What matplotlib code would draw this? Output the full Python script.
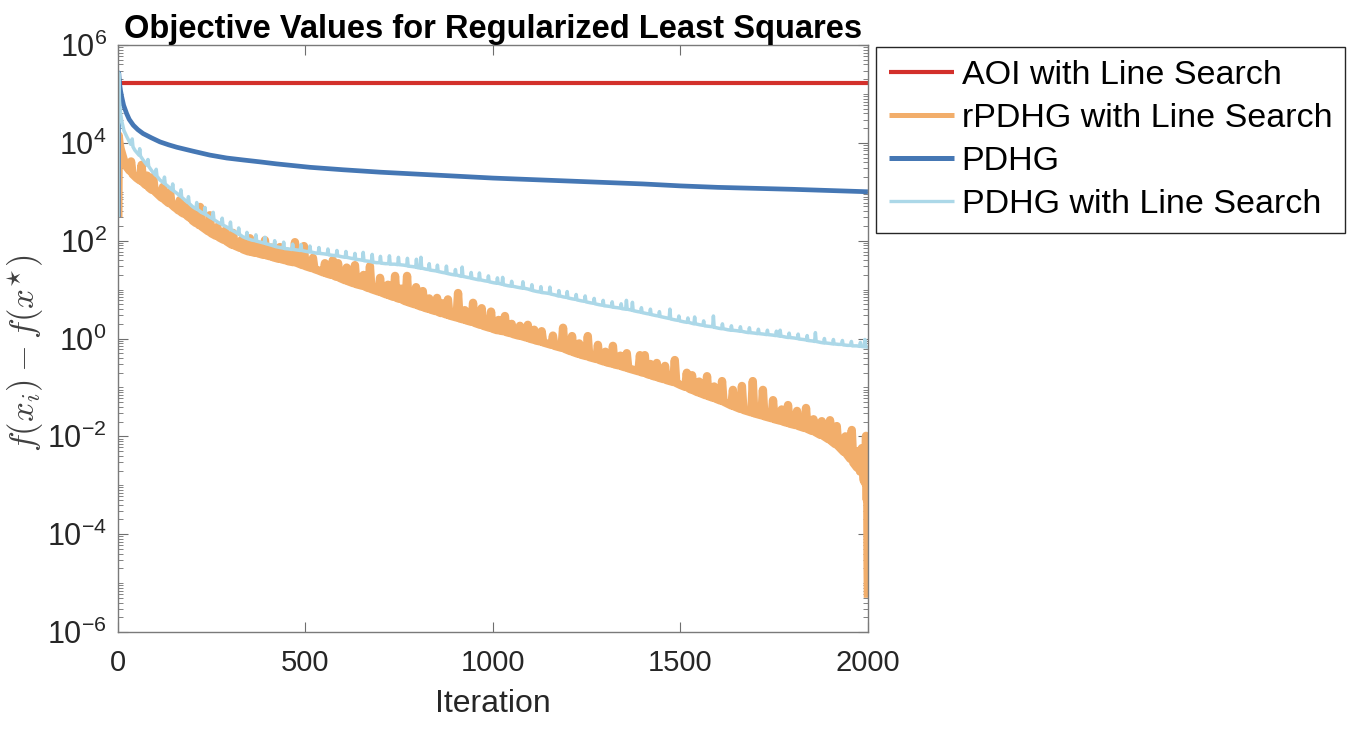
"""Objective gap curves for regularized least squares (AOI / rPDHG / PDHG)."""

from __future__ import annotations

import matplotlib

matplotlib.use("Agg")
import matplotlib.pyplot as plt
import numpy as np
from matplotlib.ticker import FixedLocator, FuncFormatter, LogLocator, NullFormatter

# ---------------------------------------------------------------------------
# data (iteration, log10 of f(x_i) - f(x*))
# ---------------------------------------------------------------------------
AOI_ITERS = [1, 2000]
AOI_LOG10 = [5.22, 5.22]

RPDHG_POINTS = [
    (1, 2.48), (2, 4.15), (4, 4.00), (7, 3.88), (10, 3.80), (16, 3.64), (24, 3.50),
    (31, 3.43), (35, 3.62), (39, 3.36), (50, 3.28), (59, 3.23), (63, 3.55), (67, 3.19),
    (74, 3.14), (78, 3.33), (82, 3.09), (90, 3.04), (94, 3.30), (98, 3.01), (105, 2.96),
    (112, 2.91), (116, 2.88), (120, 3.10), (124, 2.84), (135, 2.77), (139, 3.00), (143, 2.74),
    (150, 2.69), (157, 2.65), (161, 2.62), (165, 2.83), (169, 2.58), (176, 2.55), (180, 2.72),
    (184, 2.51), (191, 2.47), (195, 2.62), (199, 2.41), (208, 2.36), (212, 2.55), (216, 2.32),
    (219, 2.69), (223, 2.29), (232, 2.24), (241, 2.19), (245, 2.52), (249, 2.15), (261, 2.10),
    (265, 2.28), (269, 2.07), (281, 2.02), (285, 2.20), (289, 1.99), (303, 1.92), (307, 2.16),
    (311, 1.90), (326, 1.85), (330, 2.02), (334, 1.82), (348, 1.78), (352, 2.05), (356, 1.77),
    (366, 1.75), (370, 1.93), (374, 1.74), (388, 1.71), (392, 2.01), (396, 1.70), (406, 1.68),
    (410, 1.86), (414, 1.66), (428, 1.63), (432, 1.87), (436, 1.62), (446, 1.60), (450, 1.78),
    (454, 1.58), (468, 1.56), (472, 1.97), (476, 1.55), (492, 1.50), (496, 1.89), (500, 1.48),
    (516, 1.44), (520, 1.65), (524, 1.42), (535, 1.39), (548, 1.35), (552, 1.54), (556, 1.33),
    (569, 1.30), (573, 1.60), (577, 1.28), (583, 1.26), (587, 1.54), (591, 1.24), (606, 1.19),
    (610, 1.45), (614, 1.17), (628, 1.13), (632, 1.50), (636, 1.11), (651, 1.08), (655, 1.30),
    (659, 1.06), (668, 1.03), (672, 1.48), (676, 1.01), (695, 0.96), (699, 1.24), (703, 0.94),
    (716, 0.90), (720, 1.10), (724, 0.88), (735, 0.85), (739, 1.28), (743, 0.83), (751, 0.81),
    (755, 1.02), (759, 0.79), (767, 0.76), (771, 1.28), (775, 0.74), (791, 0.70), (795, 1.05),
    (799, 0.68), (809, 0.65), (813, 0.97), (817, 0.63), (826, 0.61), (830, 0.82), (834, 0.59),
    (847, 0.56), (851, 0.83), (855, 0.54), (861, 0.52), (865, 0.72), (869, 0.51), (876, 0.49),
    (880, 0.80), (884, 0.47), (903, 0.43), (907, 0.93), (911, 0.41), (921, 0.39), (925, 0.58),
    (929, 0.37), (943, 0.34), (947, 0.73), (951, 0.32), (966, 0.28), (970, 0.62), (974, 0.26),
    (991, 0.22), (995, 0.55), (999, 0.20), (1011, 0.17), (1015, 0.38), (1019, 0.16),
    (1028, 0.15), (1032, 0.46), (1036, 0.13), (1046, 0.11), (1050, 0.30), (1054, 0.09),
    (1068, 0.06), (1072, 0.26), (1076, 0.05), (1089, 0.02), (1093, 0.28), (1097, 0.00),
    (1106, -0.02), (1110, 0.18), (1114, -0.04), (1126, -0.06), (1130, 0.15), (1134, -0.08),
    (1156, -0.13), (1160, 0.06), (1164, -0.15), (1183, -0.19), (1187, 0.22), (1191, -0.21),
    (1207, -0.26), (1211, 0.05), (1215, -0.28), (1226, -0.31), (1230, -0.10), (1234, -0.33),
    (1249, -0.36), (1253, 0.05), (1257, -0.38), (1276, -0.42), (1280, -0.13), (1284, -0.44),
    (1296, -0.47), (1300, -0.27), (1304, -0.49), (1316, -0.51), (1320, -0.15), (1324, -0.53),
    (1336, -0.55), (1340, -0.35), (1344, -0.57), (1353, -0.59), (1357, -0.30), (1361, -0.61),
    (1388, -0.67), (1392, -0.34), (1396, -0.69), (1401, -0.70), (1405, -0.34), (1409, -0.72),
    (1416, -0.74), (1420, -0.52), (1424, -0.76), (1433, -0.78), (1437, -0.50), (1441, -0.80),
    (1455, -0.83), (1459, -0.56), (1463, -0.85), (1481, -0.89), (1485, -0.44), (1489, -0.91),
    (1500, -0.95), (1513, -0.99), (1517, -0.70), (1521, -1.01), (1527, -1.04), (1531, -0.75),
    (1535, -1.06), (1546, -1.10), (1550, -0.88), (1554, -1.12), (1567, -1.16), (1571, -0.77),
    (1575, -1.18), (1586, -1.21), (1590, -0.98), (1594, -1.23), (1607, -1.27), (1611, -0.87),
    (1615, -1.29), (1636, -1.37), (1640, -1.05), (1644, -1.39), (1660, -1.44), (1664, -0.97),
    (1668, -1.46), (1689, -1.51), (1693, -0.87), (1697, -1.53), (1716, -1.57), (1720, -1.05),
    (1724, -1.59), (1743, -1.63), (1747, -1.26), (1751, -1.65), (1766, -1.68), (1770, -1.45),
    (1774, -1.70), (1783, -1.72), (1787, -1.36), (1791, -1.74), (1807, -1.77), (1811, -1.48),
    (1815, -1.79), (1831, -1.83), (1835, -1.42), (1839, -1.85), (1851, -1.89), (1855, -1.65),
    (1859, -1.91), (1873, -1.97), (1877, -1.69), (1881, -1.99), (1895, -2.06), (1899, -1.67),
    (1903, -2.10), (1913, -2.16), (1917, -1.79), (1921, -2.20), (1936, -2.32), (1940, -2.00),
    (1944, -2.37), (1953, -2.46), (1957, -1.87), (1961, -2.54), (1971, -2.64), (1975, -2.30),
    (1979, -2.72), (1984, -2.24), (1988, -2.88), (1992, -2.95), (1995, -1.99), (1997, -3.30),
    (1998, -2.30), (1999, -4.50), (2000, -5.30),
]

PDHG_POINTS = [
    (1, 2.48), (2, 5.43), (3, 5.33), (5, 5.17), (7, 5.06), (10, 4.94), (15, 4.77),
    (23, 4.60), (30, 4.48), (41, 4.36), (53, 4.27), (67, 4.19), (90, 4.10), (112, 4.02),
    (135, 3.96), (157, 3.91), (200, 3.83), (245, 3.75), (290, 3.69), (334, 3.65),
    (380, 3.61), (423, 3.57), (512, 3.50), (600, 3.45), (700, 3.40), (800, 3.36),
    (900, 3.32), (1000, 3.28), (1200, 3.22), (1400, 3.16), (1500, 3.12), (1600, 3.09),
    (1800, 3.05), (2000, 3.00),
]

PDHG_LS_POINTS = [
    (1, 2.48), (2, 5.43), (4, 4.85), (7, 4.60), (10, 4.45), (16, 4.25), (24, 4.12),
    (34, 3.97), (38, 4.08), (40, 3.92), (45, 3.85), (56, 3.75), (58, 3.88), (60, 3.73),
    (67, 3.65), (78, 3.54), (80, 3.66), (82, 3.52), (90, 3.43), (100, 3.34), (102, 3.46),
    (104, 3.32), (112, 3.24), (122, 3.18), (124, 3.30), (126, 3.16), (135, 3.10), (144, 3.04),
    (146, 3.16), (148, 3.02), (157, 2.97), (166, 2.91), (168, 3.04), (170, 2.89), (180, 2.82),
    (186, 2.78), (188, 2.90), (190, 2.76), (200, 2.69), (208, 2.65), (210, 2.78), (212, 2.64),
    (222, 2.58), (230, 2.55), (232, 2.68), (234, 2.54), (245, 2.48), (252, 2.45), (254, 2.58),
    (256, 2.43), (268, 2.37), (276, 2.34), (278, 2.46), (280, 2.32), (290, 2.28), (298, 2.24),
    (300, 2.38), (302, 2.22), (312, 2.18), (320, 2.14), (322, 2.26), (324, 2.13), (333, 2.08),
    (342, 2.05), (344, 2.17), (346, 2.04), (358, 2.01), (366, 2.00), (368, 2.12), (370, 1.99),
    (380, 1.97), (390, 1.95), (392, 2.07), (394, 1.94), (408, 1.91), (416, 1.89), (418, 2.00),
    (420, 1.88), (432, 1.86), (440, 1.85), (442, 1.97), (444, 1.84), (456, 1.83), (464, 1.82),
    (466, 1.93), (468, 1.82), (478, 1.81), (486, 1.80), (488, 1.92), (490, 1.80), (502, 1.78),
    (510, 1.77), (512, 1.89), (514, 1.77), (526, 1.75), (534, 1.74), (536, 1.86), (538, 1.74),
    (550, 1.73), (558, 1.72), (560, 1.83), (562, 1.71), (574, 1.70), (582, 1.69), (584, 1.80),
    (586, 1.69), (598, 1.67), (606, 1.66), (608, 1.78), (610, 1.66), (622, 1.64), (630, 1.63),
    (632, 1.74), (634, 1.62), (645, 1.61), (652, 1.60), (654, 1.76), (656, 1.59), (668, 1.58),
    (676, 1.57), (678, 1.72), (680, 1.56), (690, 1.55), (698, 1.55), (700, 1.68), (702, 1.54),
    (714, 1.53), (722, 1.53), (724, 1.69), (726, 1.52), (738, 1.52), (746, 1.51), (748, 1.66),
    (750, 1.51), (762, 1.50), (770, 1.49), (772, 1.64), (774, 1.48), (786, 1.47), (794, 1.46),
    (796, 1.62), (798, 1.45), (806, 1.44), (808, 1.66), (810, 1.44), (820, 1.42), (828, 1.41),
    (830, 1.53), (832, 1.40), (842, 1.39), (850, 1.38), (852, 1.50), (854, 1.37), (866, 1.35),
    (874, 1.34), (876, 1.48), (878, 1.33), (890, 1.31), (898, 1.30), (900, 1.41), (902, 1.30),
    (912, 1.28), (916, 1.27), (918, 1.46), (920, 1.27), (932, 1.25), (940, 1.24), (942, 1.35),
    (944, 1.23), (956, 1.21), (962, 1.20), (964, 1.34), (966, 1.20), (978, 1.18), (986, 1.17),
    (988, 1.28), (990, 1.16), (1002, 1.14), (1010, 1.13), (1012, 1.24), (1014, 1.13),
    (1024, 1.11), (1026, 1.25), (1028, 1.10), (1040, 1.08), (1048, 1.07), (1050, 1.17),
    (1052, 1.07), (1064, 1.05), (1078, 1.03), (1080, 1.16), (1082, 1.03), (1094, 1.01),
    (1102, 0.99), (1104, 1.10), (1106, 0.98), (1118, 0.96), (1126, 0.95), (1128, 1.06),
    (1130, 0.94), (1142, 0.93), (1150, 0.92), (1152, 1.05), (1154, 0.91), (1166, 0.89),
    (1174, 0.87), (1176, 0.98), (1178, 0.87), (1188, 0.85), (1196, 0.84), (1198, 0.96),
    (1200, 0.83), (1212, 0.81), (1220, 0.80), (1222, 0.90), (1224, 0.79), (1236, 0.77),
    (1244, 0.76), (1246, 0.87), (1248, 0.75), (1260, 0.73), (1268, 0.72), (1270, 0.82),
    (1272, 0.71), (1284, 0.69), (1292, 0.68), (1294, 0.78), (1296, 0.67), (1308, 0.66),
    (1316, 0.65), (1318, 0.75), (1320, 0.64), (1332, 0.63), (1340, 0.62), (1342, 0.71),
    (1344, 0.61), (1354, 0.60), (1356, 0.78), (1358, 0.60), (1370, 0.58), (1372, 0.74),
    (1374, 0.57), (1386, 0.55), (1394, 0.54), (1396, 0.63), (1398, 0.53), (1410, 0.51),
    (1418, 0.50), (1420, 0.60), (1422, 0.49), (1434, 0.47), (1442, 0.46), (1444, 0.55),
    (1446, 0.45), (1458, 0.43), (1470, 0.41), (1472, 0.60), (1474, 0.40), (1486, 0.38),
    (1494, 0.37), (1496, 0.46), (1498, 0.36), (1510, 0.34), (1518, 0.33), (1520, 0.42),
    (1522, 0.33), (1536, 0.30), (1538, 0.44), (1540, 0.30), (1552, 0.28), (1560, 0.27),
    (1562, 0.36), (1564, 0.26), (1576, 0.25), (1586, 0.24), (1588, 0.46), (1590, 0.23),
    (1602, 0.21), (1610, 0.20), (1612, 0.30), (1614, 0.20), (1626, 0.18), (1634, 0.17),
    (1636, 0.26), (1638, 0.17), (1650, 0.16), (1658, 0.15), (1660, 0.24), (1662, 0.15),
    (1674, 0.13), (1682, 0.12), (1684, 0.22), (1686, 0.12), (1698, 0.11), (1706, 0.10),
    (1708, 0.19), (1710, 0.10), (1722, 0.09), (1730, 0.08), (1732, 0.17), (1734, 0.08),
    (1746, 0.07), (1754, 0.06), (1756, 0.15), (1758, 0.06), (1764, 0.05), (1766, 0.17),
    (1768, 0.05), (1780, 0.03), (1788, 0.02), (1790, 0.11), (1792, 0.02), (1804, 0.01),
    (1812, 0.00), (1814, 0.09), (1816, -0.01), (1828, -0.02), (1836, -0.03), (1838, 0.06),
    (1840, -0.04), (1852, -0.05), (1858, -0.06), (1860, 0.12), (1862, -0.06), (1874, -0.08),
    (1882, -0.09), (1884, 0.00), (1886, -0.09), (1898, -0.10), (1906, -0.11), (1908, -0.02),
    (1910, -0.11), (1922, -0.12), (1930, -0.12), (1932, -0.04), (1934, -0.13), (1946, -0.14),
    (1954, -0.14), (1956, -0.06), (1958, -0.15), (1970, -0.15), (1978, -0.16), (1980, -0.08),
    (1982, -0.16), (1990, -0.17), (1992, -0.02), (1994, -0.17), (2000, -0.18),
]

SERIES_LABELS = [
    "AOI with Line Search",
    "rPDHG with Line Search",
    "PDHG",
    "PDHG with Line Search",
]
SERIES_COLORS = ["#d3302b", "#f2ae6b", "#4577b4", "#acd8e8"]
SERIES_WIDTHS = [3.0, 6.0, 3.4, 2.5]
LEGEND_WIDTHS = [3.0, 3.6, 3.6, 2.4]

Y_TICK_EXPONENTS = [-6, -4, -2, 0, 2, 4, 6]
X_TICKS = [0, 500, 1000, 1500, 2000]


def _unzip(points: list[tuple[float, float]]) -> tuple[np.ndarray, np.ndarray]:
    iters, logs = zip(*points)
    return np.asarray(iters, dtype=float), 10.0 ** np.asarray(logs, dtype=float)


def _pow10_label(value: float, _pos: int) -> str:
    exponent = int(round(np.log10(value)))
    return rf"$\mathregular{{10^{{{exponent}}}}}$"


def main() -> None:
    plt.rcParams["font.family"] = ["Liberation Sans", "DejaVu Sans"]
    plt.rcParams["mathtext.fontset"] = "custom"
    plt.rcParams["mathtext.rm"] = "Liberation Sans"
    plt.rcParams["mathtext.it"] = "Liberation Sans:italic"
    plt.rcParams["mathtext.bf"] = "Liberation Sans:bold"

    fig = plt.figure(figsize=(13.7, 7.32), dpi=100)
    ax = fig.add_axes([0.0861, 0.1366, 0.5474, 0.8019])

    series = [
        (np.asarray(AOI_ITERS, dtype=float), 10.0 ** np.asarray(AOI_LOG10)),
        _unzip(RPDHG_POINTS),
        _unzip(PDHG_POINTS),
        _unzip(PDHG_LS_POINTS),
    ]
    for (xs, ys), label, color, width in zip(series, SERIES_LABELS, SERIES_COLORS, SERIES_WIDTHS):
        ax.plot(
            xs,
            ys,
            color=color,
            linewidth=width,
            label=label,
            solid_joinstyle="round",
            solid_capstyle="butt",
        )

    ax.set_yscale("log")
    ax.set_xlim(0, 2000)
    ax.set_ylim(1e-6, 1e6)
    ax.xaxis.set_major_locator(FixedLocator(X_TICKS))
    ax.yaxis.set_major_locator(FixedLocator([10.0**e for e in Y_TICK_EXPONENTS]))
    ax.yaxis.set_major_formatter(FuncFormatter(_pow10_label))
    ax.yaxis.set_minor_locator(LogLocator(base=10, subs=np.arange(1, 10), numticks=40))
    ax.yaxis.set_minor_formatter(NullFormatter())

    ax.tick_params(
        which="both", direction="in", top=True, right=True,
        color="#6e6e6e", labelcolor="#262626",
    )
    ax.tick_params(which="major", length=7, width=0.8)
    ax.tick_params(which="minor", length=3.5, width=0.6)
    ax.tick_params(axis="x", labelsize=21, pad=12)
    ax.tick_params(axis="y", labelsize=22, pad=8)
    for spine in ax.spines.values():
        spine.set_color("#7a7a7a")
        spine.set_linewidth(1.0)

    ax.set_xlabel("Iteration", fontsize=23, color="#262626", labelpad=9)
    ax.set_ylabel(
        r"$f(x_i) - f(x^{\star})$",
        fontsize=25,
        color="#404040",
        math_fontfamily="cm",
    )
    ax.yaxis.set_label_coords(-0.096, 0.475)
    ax.set_title(
        "Objective Values for Regularized Least Squares",
        fontsize=23.5,
        fontweight="bold",
        pad=5,
    )

    legend = ax.legend(
        loc="upper left",
        bbox_to_anchor=(0.6394, 0.9358),
        bbox_transform=fig.transFigure,
        borderaxespad=0.0,
        fontsize=24.5,
        handlelength=1.9,
        handletextpad=0.24,
        labelspacing=0.35,
        borderpad=0.38,
        fancybox=False,
        framealpha=1.0,
    )
    legend.get_frame().set_edgecolor("#262626")
    legend.get_frame().set_linewidth(1.0)
    for handle, width in zip(legend.get_lines(), LEGEND_WIDTHS):
        handle.set_linewidth(width)

    fig.savefig("out.png", dpi=100)
    plt.close(fig)


if __name__ == "__main__":
    main()
